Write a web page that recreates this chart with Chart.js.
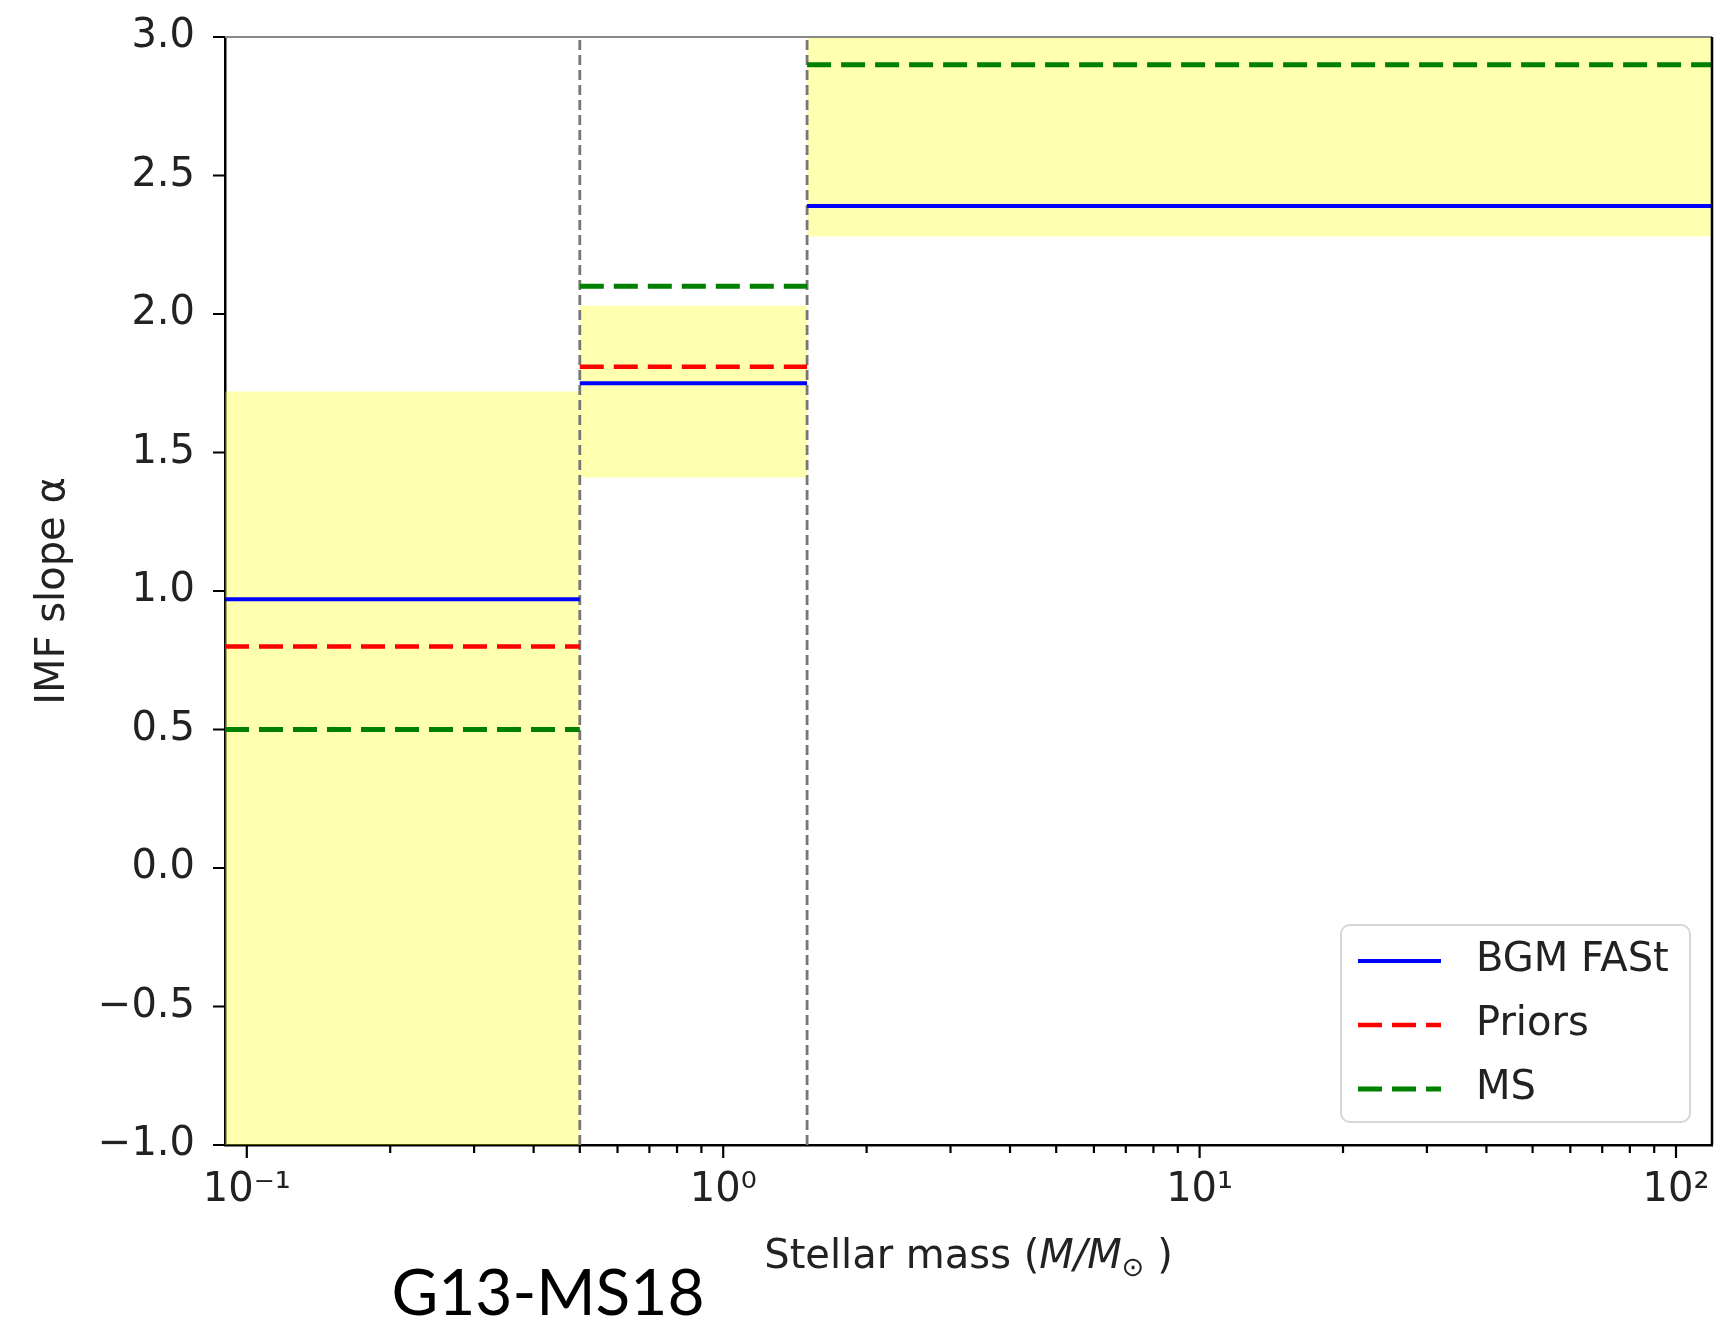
<!DOCTYPE html>
<html lang="en">
<head>
<meta charset="UTF-8">
<title>IMF slope G13-MS18</title>
<script src="https://cdn.jsdelivr.net/npm/chart.js"></script>
<style>
    body { margin: 0; background: #fff; overflow: hidden; }
    #wrap { width: 1721px; height: 1326px; position: relative; }
</style>
</head>
<body>
<div id="wrap"><canvas id="imfChart"></canvas></div>
<script>
    // mass bin edges: axis min, the two breaks, axis max
    const massEdges = [0.09, 0.5, 1.5, 119];
    const massBreaks = [0.5, 1.5];

    // IMF slope per mass bin
    const bgmFast = [0.97, 1.75, 2.39];
    const priors = [0.80, 1.81, null];
    const msSlopes = [0.50, 2.10, 2.90];

    // shaded uncertainty band per mass bin
    const bandLow = [-1.0, 1.41, 2.28];
    const bandHigh = [1.72, 2.03, 3.0];

    const xMajorTicks = [0.1, 1, 10, 100];
    const xMajorLabels = ['10⁻¹', '10⁰', '10¹', '10²'];
    const yTicks = [-1.0, -0.5, 0.0, 0.5, 1.0, 1.5, 2.0, 2.5, 3.0];

    const FONT = "'DejaVu Sans'";
    const TEXT = '#222';

    // horizontal step segments with gaps between bins
    function steps(values) {
        const pts = [];
        values.forEach((v, i) => {
            if (v === null) return;
            pts.push({x: massEdges[i], y: v}, {x: massEdges[i + 1], y: v}, {x: massEdges[i + 1], y: null});
        });
        return pts;
    }

    const lineSets = [
        {label: 'BGM FASt', data: steps(bgmFast), borderColor: '#0000ff', borderWidth: 4, borderDash: [], inLegend: true, order: 0},
        {label: 'Priors', data: steps(priors), borderColor: '#ff0000', borderWidth: 4.5, borderDash: [24, 10], inLegend: true, order: 0},
        {label: 'MS', data: steps(msSlopes), borderColor: '#008000', borderWidth: 5, borderDash: [24, 10], inLegend: true, order: 0}
    ];

    const breakSets = massBreaks.map(b => ({
        label: 'break', data: [{x: b, y: yTicks[0]}, {x: b, y: yTicks[yTicks.length - 1]}],
        borderColor: '#777', borderWidth: 2.8, borderDash: [10, 5], order: 1
    }));

    const bandSets = [];
    bandLow.forEach((lo, i) => {
        bandSets.push({
            label: 'band', data: [{x: massEdges[i], y: bandHigh[i]}, {x: massEdges[i + 1], y: bandHigh[i]}],
            borderColor: 'transparent', borderWidth: 0, fill: '+1', backgroundColor: 'rgba(255,255,0,0.31)', order: 2
        });
        bandSets.push({
            label: 'band', data: [{x: massEdges[i], y: lo}, {x: massEdges[i + 1], y: lo}],
            borderColor: 'transparent', borderWidth: 0, fill: false, order: 2
        });
    });

    function isMajor(v) {
        return xMajorTicks.some(m => Math.abs(m - v) / m < 1e-6);
    }

    // frame, tick marks, legend, x title and caption
    const decor = {
        id: 'decor',
        afterDraw(chart) {
            const {ctx, chartArea: a, scales: {x, y}} = chart;
            ctx.save();

            ctx.strokeStyle = '#888';
            ctx.lineWidth = 2;
            ctx.beginPath();
            ctx.moveTo(a.left, a.top);
            ctx.lineTo(a.right, a.top);
            ctx.stroke();
            ctx.strokeStyle = '#000';
            ctx.lineWidth = 2.5;
            ctx.beginPath();
            ctx.moveTo(a.right, a.top);
            ctx.lineTo(a.right, a.bottom);
            ctx.stroke();

            ctx.lineWidth = 2.2;
            ctx.beginPath();
            x.ticks.forEach(t => {
                const px = x.getPixelForValue(t.value);
                const len = isMajor(t.value) ? 13 : 8;
                ctx.moveTo(px, a.bottom);
                ctx.lineTo(px, a.bottom + len);
            });
            y.ticks.forEach(t => {
                const py = y.getPixelForValue(t.value);
                ctx.moveTo(a.left, py);
                ctx.lineTo(a.left - 12, py);
            });
            ctx.stroke();

            // legend box
            const w = 349, h = 197;
            const bx = a.right - 22 - w, by = a.bottom - 23 - h;
            ctx.beginPath();
            ctx.roundRect(bx, by, w, h, 9);
            ctx.fillStyle = 'rgba(255,255,255,0.85)';
            ctx.fill();
            ctx.strokeStyle = '#d6d6d6';
            ctx.lineWidth = 2;
            ctx.stroke();
            chart.data.datasets.filter(d => d.inLegend).forEach((d, i) => {
                const ry = by + 36 + i * 64;
                ctx.strokeStyle = d.borderColor;
                ctx.lineWidth = d.borderWidth;
                ctx.setLineDash(d.borderDash);
                ctx.beginPath();
                ctx.moveTo(bx + 17, ry);
                ctx.lineTo(bx + 100, ry);
                ctx.stroke();
                ctx.setLineDash([]);
                ctx.fillStyle = TEXT;
                ctx.font = `40px ${FONT}`;
                ctx.textBaseline = 'middle';
                ctx.textAlign = 'left';
                ctx.fillText(d.label, bx + 135, ry);
            });

            // x axis title with mathtext-like parts
            const parts = [
                {t: 'Stellar mass (', f: `40px ${FONT}`, dy: 0},
                {t: 'M/M', f: `italic 40px ${FONT}`, dy: 0},
                {t: '⊙', f: `27px ${FONT}`, dy: 8},
                {t: ' )', f: `40px ${FONT}`, dy: 0}
            ];
            let total = 0;
            parts.forEach(p => { ctx.font = p.f; p.w = ctx.measureText(p.t).width; total += p.w; });
            let tx = (a.left + a.right) / 2 - total / 2;
            ctx.fillStyle = TEXT;
            ctx.textBaseline = 'alphabetic';
            ctx.textAlign = 'left';
            parts.forEach(p => { ctx.font = p.f; ctx.fillText(p.t, tx, 1268 + p.dy); tx += p.w; });

            // caption under the figure
            ctx.font = '64px Lato';
            ctx.fillStyle = '#000';
            ctx.textAlign = 'center';
            ctx.fillText('G13-MS18', 548, 1315);

            ctx.restore();
        }
    };

    new Chart(document.getElementById('imfChart'), {
        type: 'scatter',
        data: {datasets: [...lineSets, ...breakSets, ...bandSets]},
        options: {
            responsive: true,
            maintainAspectRatio: false,
            animation: false,
            showLine: true,
            layout: {padding: {left: 30, right: 9, top: 37, bottom: 50}},
            elements: {point: {radius: 0, hoverRadius: 0}, line: {tension: 0}},
            plugins: {legend: {display: false}, tooltip: {enabled: false}},
            scales: {
                x: {
                    type: 'logarithmic',
                    min: massEdges[0],
                    max: massEdges[massEdges.length - 1],
                    grid: {display: false, drawTicks: false},
                    border: {color: '#000', width: 2.5},
                    afterBuildTicks: scale => {
                        const ticks = [];
                        xMajorTicks.forEach(m => {
                            for (let k = 1; k <= 9; k++) {
                                const v = m * k;
                                if (v >= scale.min && v <= scale.max) ticks.push({value: v});
                            }
                        });
                        scale.ticks = ticks;
                    },
                    afterFit: scale => {
                        scale.height = 131;
                        scale.paddingLeft = 0;
                        scale.paddingRight = 0;
                    },
                    ticks: {
                        autoSkip: false,
                        maxRotation: 0,
                        padding: 22,
                        color: TEXT,
                        font: {family: FONT, size: 40},
                        callback: value => {
                            const i = xMajorTicks.findIndex(m => Math.abs(m - value) / m < 1e-6);
                            return i >= 0 ? xMajorLabels[i] : '';
                        }
                    }
                },
                y: {
                    min: yTicks[0],
                    max: yTicks[yTicks.length - 1],
                    grid: {display: false, drawTicks: false},
                    border: {color: '#000', width: 2.5},
                    afterBuildTicks: scale => { scale.ticks = yTicks.map(v => ({value: v})); },
                    afterFit: scale => {
                        scale.width = 195;
                        scale.paddingTop = 0;
                        scale.paddingBottom = 0;
                    },
                    ticks: {
                        padding: 30,
                        color: TEXT,
                        font: {family: FONT, size: 40},
                        callback: value => (value < 0 ? '−' : '') + Math.abs(value).toFixed(1)
                    },
                    title: {
                        display: true,
                        text: 'IMF slope α',
                        color: TEXT,
                        padding: 0,
                        font: {family: FONT, size: 40}
                    }
                }
            }
        },
        plugins: [decor]
    });
</script>
</body>
</html>
